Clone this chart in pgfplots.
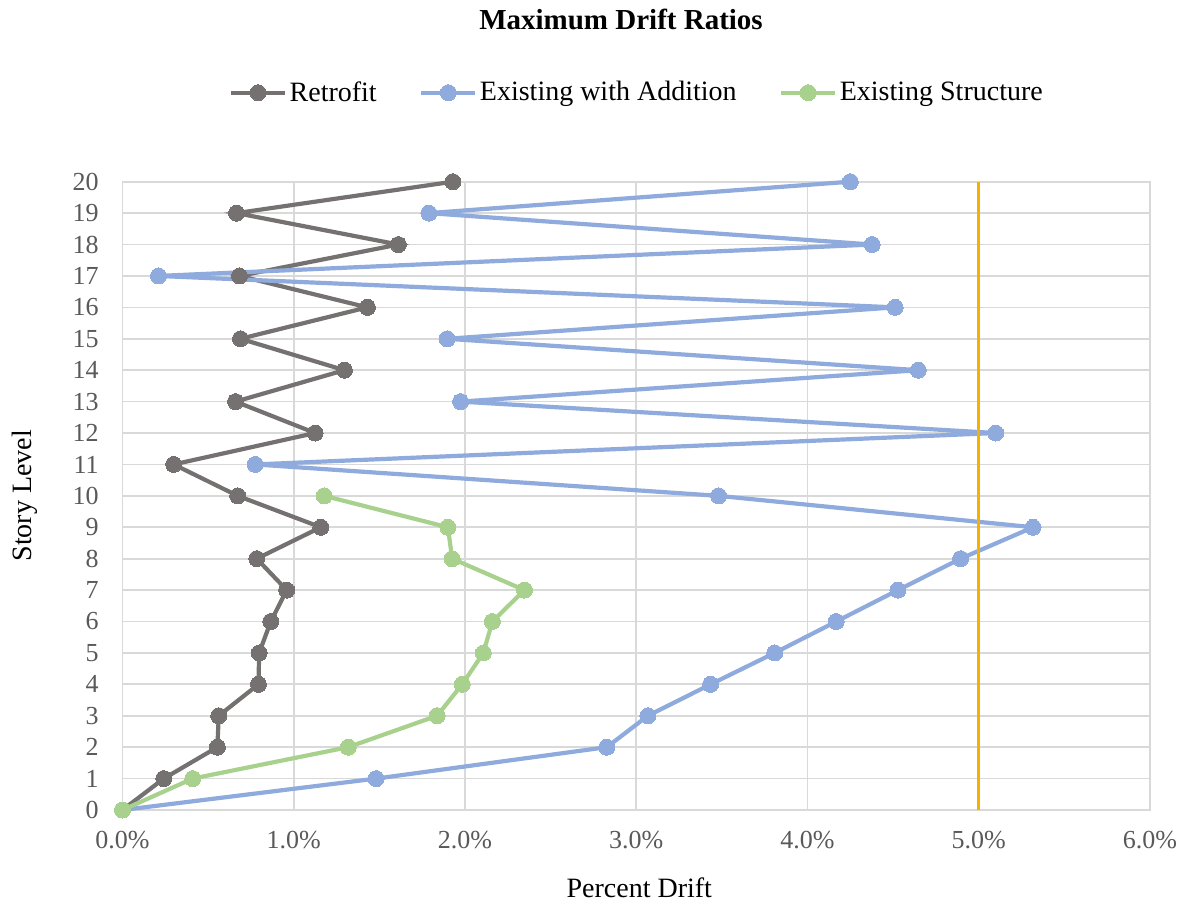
\documentclass[border=0pt]{standalone}
\usepackage{fontspec}
\setmainfont{Liberation Serif}
\usepackage{pgfplots}
\pgfplotsset{compat=1.18}

\definecolor{retrofit}{HTML}{767171}
\definecolor{addition}{HTML}{8FAADC}
\definecolor{existing}{HTML}{A9D18E}
\definecolor{limitline}{HTML}{F6B000}
\definecolor{gridgray}{HTML}{D9D9D9}
\definecolor{ticktext}{HTML}{595959}

\begin{document}
\begin{tikzpicture}
\begin{axis}[
  scale only axis,
  width=513.75pt, height=314.15pt,
  xmin=0, xmax=6, ymin=0, ymax=20,
  xtick={0,1,...,6}, ytick={0,1,...,20},
  grid=major,
  major grid style={color=gridgray, line width=0.85pt},
  axis line style={color=gridgray, line width=0.85pt},
  tick style={draw=none},
  clip=false,
  /pgf/number format/assume math mode=true,
  xticklabel={\pgfmathprintnumber[fixed,fixed zerofill,precision=1]{\tick}\%},
  ticklabel style={font=\fontsize{13}{15}\selectfont, text=ticktext},
  xticklabel style={anchor=north, inner sep=0pt, yshift=-10.5pt},
  yticklabel style={anchor=east, inner sep=0pt, xshift=-11.75pt},
  xlabel={Percent Drift},
  xlabel style={at={(axis description cs:0.503,-0.140)}, anchor=base,
    font=\fontsize{14}{16}\selectfont},
  ylabel={Story Level},
  ylabel style={at={(axis description cs:-0.0884,0.5)}, anchor=base,
    font=\fontsize{14}{16}\selectfont},
  legend columns=3,
  legend style={draw=none, fill=none, inner sep=0pt, outer sep=0pt,
    at={(axis description cs:0.1036,1.1417)}, anchor=west,
    font=\fontsize{14}{16}\selectfont,
    nodes={inner xsep=1.25pt, inner ysep=0pt},
    /tikz/every even column/.append style={column sep=20pt}},
  legend cell align=left,
  legend image code/.code={%
    \draw[mark repeat=2,mark phase=2] plot coordinates {(0pt,0pt) (13.5pt,0pt) (27pt,0pt)};},
  every axis plot/.append style={line width=2.1pt, mark=*, mark size=4pt},
]

% Retrofit drift per story
\addplot[color=retrofit, mark options={fill=retrofit, draw=retrofit, line width=0pt}] table {
x y
0.000 0
0.241 1
0.554 2
0.562 3
0.794 4
0.798 5
0.866 6
0.959 7
0.784 8
1.158 9
0.673 10
0.299 11
1.125 12
0.660 13
1.296 14
0.689 15
1.430 16
0.683 17
1.611 18
0.666 19
1.929 20
};
\addlegendentry{Retrofit}

% Existing building with added stories
\addplot[color=addition, mark options={fill=addition, draw=addition, line width=0pt}] table {
x y
0.000 0
1.481 1
2.828 2
3.068 3
3.434 4
3.808 5
4.168 6
4.528 7
4.894 8
5.317 9
3.481 10
0.775 11
5.099 12
1.974 13
4.647 14
1.896 15
4.512 16
0.210 17
4.378 18
1.789 19
4.250 20
};
\addlegendentry{Existing with Addition}

% Existing ten-story structure
\addplot[color=existing, mark options={fill=existing, draw=existing, line width=0pt}] table {
x y
0.000 0
0.410 1
1.318 2
1.837 3
1.984 4
2.107 5
2.160 6
2.347 7
1.925 8
1.900 9
1.178 10
};
\addlegendentry{Existing Structure}

% 5% drift limit
\addplot[color=limitline, line width=1.6pt, mark=none, forget plot] coordinates {(5,0) (5,20)};
\end{axis}
% chart title
\node[anchor=base, font=\fontsize{14.5}{16}\selectfont\bfseries]
  at (249.25pt,390.35pt) {Maximum Drift Ratios};
\pgfresetboundingbox
\path[use as bounding box] (-61.25pt,-47.5pt) rectangle (533.25pt,405pt);
\end{tikzpicture}
\end{document}
